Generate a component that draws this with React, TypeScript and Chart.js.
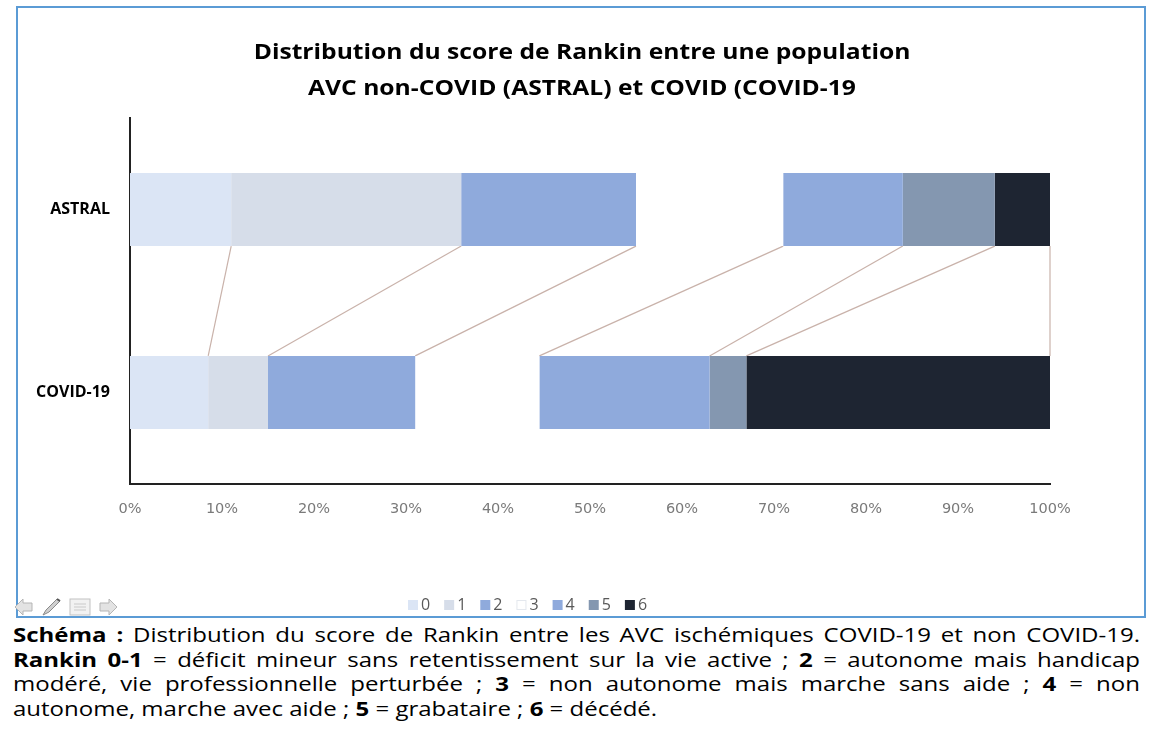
import React, { useEffect, useRef } from "react";
import { Chart, registerables } from "chart.js";

Chart.register(...registerables);

const categories = ["ASTRAL", "COVID-19"];
const rankinLabels = ["0", "1", "2", "3", "4", "5", "6"];
const astralValues = [11, 25, 19, 16, 13, 10, 6];
const covidValues = [8.5, 6.5, 16, 13.5, 18.5, 4, 33];
const rankinColors = ["#dbe5f5", "#d6dde9", "#8faadc", "#ffffff", "#8faadc", "#8497b0", "#1e2532"];
const titleLines = [
  "Distribution du score de Rankin entre une population",
  "AVC non-COVID (ASTRAL) et COVID (COVID-19",
];

const connectorPlugin = {
  id: "connectors",
  beforeDatasetsDraw(chart: any) {
    const ctx = chart.ctx;
    ctx.save();
    ctx.strokeStyle = "#c9b2aa";
    ctx.lineWidth = 1.2;
    chart.data.datasets.forEach((_: any, i: number) => {
      const meta = chart.getDatasetMeta(i);
      const a = meta.data[0] as any;
      const c = meta.data[1] as any;
      if (!a || !c) return;
      ctx.beginPath();
      ctx.moveTo(a.x, a.y + a.height / 2);
      ctx.lineTo(c.x, c.y - c.height / 2);
      ctx.stroke();
    });
    ctx.restore();
  },
};

const titlePlugin = {
  id: "stretchedTitle",
  afterDraw(chart: any) {
    const ctx = chart.ctx;
    ctx.save();
    ctx.font = "bold 22px 'Open Sans'";
    ctx.fillStyle = "#000";
    ctx.textAlign = "center";
    ctx.textBaseline = "middle";
    const cx = chart.width / 2 + 1;
    titleLines.forEach((line, i) => {
      ctx.save();
      ctx.translate(cx, 45 + i * 36);
      ctx.scale(1.12, 1);
      ctx.fillText(line, 0, 0);
      ctx.restore();
    });
    ctx.restore();
  },
};

const legendPlugin = {
  id: "customLegend",
  afterDraw(chart: any) {
    const ctx = chart.ctx;
    ctx.save();
    ctx.font = "16px 'Open Sans'";
    ctx.textBaseline = "middle";
    let x = 390;
    const y = 597;
    chart.data.datasets.forEach((ds: any) => {
      ctx.fillStyle = ds.backgroundColor;
      ctx.fillRect(x, y - 5, 10, 10);
      if (ds.backgroundColor === "#ffffff") {
        ctx.strokeStyle = "#e4e8ee";
        ctx.lineWidth = 1;
        ctx.strokeRect(x + 0.5, y - 4.5, 9, 9);
      }
      ctx.fillStyle = "#595959";
      ctx.fillText(ds.label, x + 13, y);
      x += 13 + ctx.measureText(ds.label).width + 14;
    });
    ctx.restore();
  },
};

function NavIcons() {
  return (
    <svg width="115" height="22" style={{ position: "absolute", left: 13, top: 596 }}>
      <path d="M2 11 L10 3 L10 7 L19 7 L19 15 L10 15 L10 19 Z" fill="#e3e3e3" stroke="#b5b5b5" strokeWidth="1" />
      <path d="M30 19 L33 14 L44 3 L47 5 L36 16 Z" fill="#cfcfcf" stroke="#8a8a8a" strokeWidth="1" />
      <path d="M44 3 L47 5" stroke="#555" strokeWidth="2" />
      <rect x="57" y="3" width="20" height="16" fill="#f2f2f2" stroke="#c2c2c2" />
      <path d="M61 8 H73 M61 11 H73 M61 14 H73" stroke="#c9c9c9" strokeWidth="1.2" />
      <path d="M104 11 L96 3 L96 7 L87 7 L87 15 L96 15 L96 19 Z" fill="#e3e3e3" stroke="#b5b5b5" strokeWidth="1" />
    </svg>
  );
}

export default function App() {
  const canvasRef = useRef<HTMLCanvasElement | null>(null);

  useEffect(() => {
    if (!canvasRef.current) return;
    const datasets = rankinLabels.map((label, i) => ({
      label,
      data: [astralValues[i], covidValues[i]],
      backgroundColor: rankinColors[i],
      borderWidth: 0,
      categoryPercentage: 1,
      barPercentage: 0.4,
    }));
    const chart = new Chart(canvasRef.current, {
      type: "bar",
      data: { labels: categories, datasets },
      options: {
        indexAxis: "y",
        responsive: false,
        animation: false,
        layout: { padding: { left: 0, right: 94, top: 110, bottom: 92 } },
        plugins: {
          legend: { display: false },
          tooltip: { enabled: false },
          title: { display: false },
        },
        scales: {
          x: {
            stacked: true,
            min: 0,
            max: 100,
            grid: { display: false, drawTicks: false },
            border: { display: true, color: "#222", width: 2 },
            ticks: {
              stepSize: 10,
              padding: 17,
              color: "#7a7a7a",
              font: { family: "'DejaVu Sans'", size: 14.5 },
              callback: (v: any) => v + "%",
            },
            afterFit: (s: any) => {
              s.height = 40;
            },
          },
          y: {
            stacked: true,
            grid: { display: false, drawTicks: false },
            border: { display: true, color: "#222", width: 2 },
            ticks: {
              padding: 20,
              color: "#000",
              font: { family: "'Open Sans'", size: 16, weight: "bold" },
            },
            afterFit: (s: any) => {
              s.width = 112;
            },
          },
        },
      },
      plugins: [connectorPlugin, titlePlugin, legendPlugin],
    });
    return () => chart.destroy();
  }, []);

  const scale = 1.2;
  const innerWidth = 1127 / scale;
  const captionStyle: React.CSSProperties = {
    fontFamily: "'Open Sans', sans-serif",
    fontSize: 20,
    lineHeight: "24.6px",
    color: "#000",
    whiteSpace: "nowrap",
  };
  const justified: React.CSSProperties = {
    ...captionStyle,
    whiteSpace: "normal",
    textAlign: "justify",
    textAlignLast: "justify" as any,
  };

  return (
    <div style={{ position: "absolute", left: 0, top: 0, width: 1165, height: 733, background: "#fff", overflow: "hidden" }}>
      <div
        style={{
          position: "absolute",
          left: 16,
          top: 6,
          width: 1130,
          height: 612,
          boxSizing: "border-box",
          border: "2px solid #5b9bd5",
        }}
      >
        <canvas ref={canvasRef} width={1126} height={608} style={{ display: "block", width: 1126, height: 608 }} />
      </div>
      <NavIcons />
      <div
        style={{
          position: "absolute",
          left: 13,
          top: 623,
          width: innerWidth,
          transform: `scaleX(${scale})`,
          transformOrigin: "0 0",
        }}
      >
        <div style={justified}>
          <b>Schéma :</b> Distribution du score de Rankin entre les AVC ischémiques COVID-19 et non COVID-19.
        </div>
        <div style={justified}>
          <b>Rankin 0-1</b> = déficit mineur sans retentissement sur la vie active ; <b>2</b> = autonome mais handicap
        </div>
        <div style={justified}>
          modéré, vie professionnelle perturbée ; <b>3</b> = non autonome mais marche sans aide ; <b>4</b> = non
        </div>
        <div style={captionStyle}>
          autonome, marche avec aide ; <b>5</b> = grabataire ; <b>6</b> = décédé.
        </div>
      </div>
    </div>
  );
}
